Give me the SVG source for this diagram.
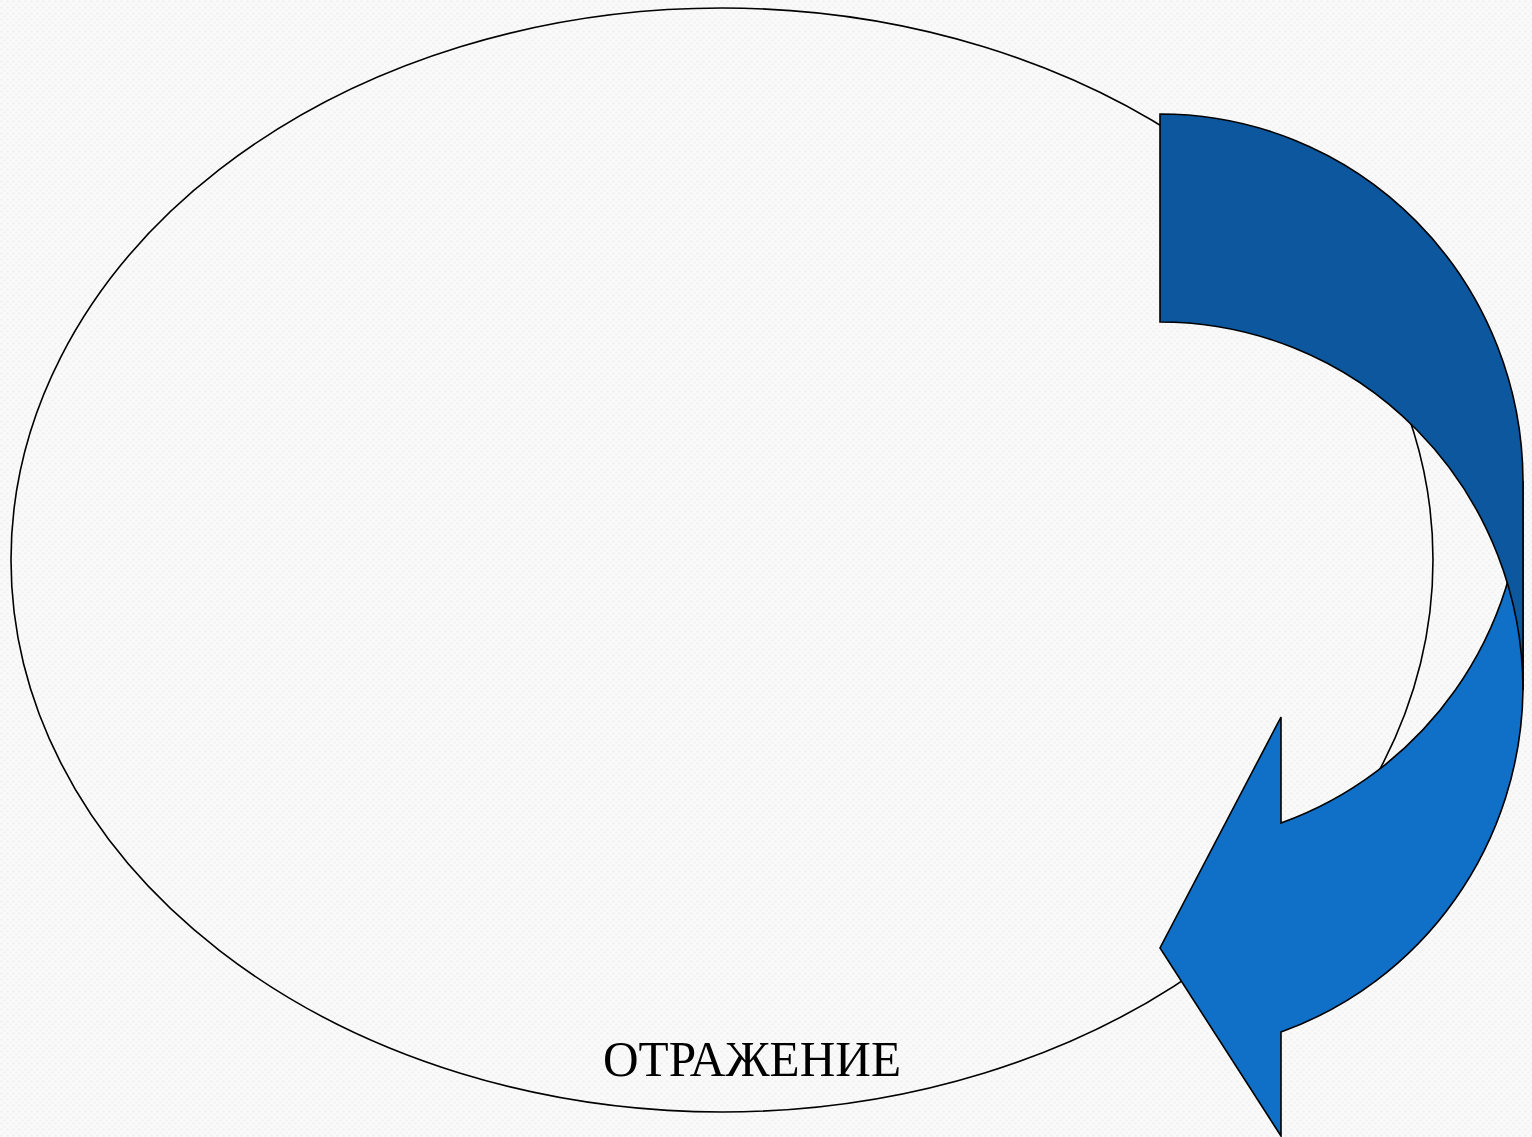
<svg xmlns="http://www.w3.org/2000/svg" width="1532" height="1137" viewBox="0 0 1532 1137">
  <defs>
    <pattern id="bgtex" width="6" height="6" patternUnits="userSpaceOnUse">
      <rect width="6" height="6" fill="#fafafa"/>
      <circle cx="1.5" cy="1.5" r="1.2" fill="#f1f1f1"/>
      <circle cx="4.5" cy="4.5" r="1.2" fill="#f3f3f3"/>
    </pattern>
    <style>
      .outline { stroke: #000000; stroke-width: 1.6; stroke-linejoin: miter; }
      .ring { fill: none; }
      .front { fill: #106fc6; }
      .back { fill: #0c579d; }
      .label { font-family: "Liberation Serif", "DejaVu Serif", serif; font-size: 50px; fill: #000000; }
    </style>
  </defs>

  <rect id="background" x="0" y="0" width="1532" height="1137" fill="url(#bgtex)"/>

  <g id="cycle-ellipse">
    <ellipse class="outline ring" cx="722" cy="560" rx="711" ry="552"/>
  </g>

  <g id="curved-arrow">
    <path class="outline front" d="M 1523,690 A 363 368 0 0 1 1281,1032 L 1281,1136 L 1160,948 L 1281,717 L 1281,823 A 363 368 0 0 0 1523,481 Z"/>
    <path class="outline back" d="M 1160,114 A 363 368 0 0 1 1523,481 L 1523,690 A 363 368 0 0 0 1160,322 Z"/>
  </g>

  <g id="label-reflection">
    <text class="label" x="603" y="1076" textLength="298" lengthAdjust="spacingAndGlyphs">ОТРАЖЕНИЕ</text>
  </g>
</svg>
